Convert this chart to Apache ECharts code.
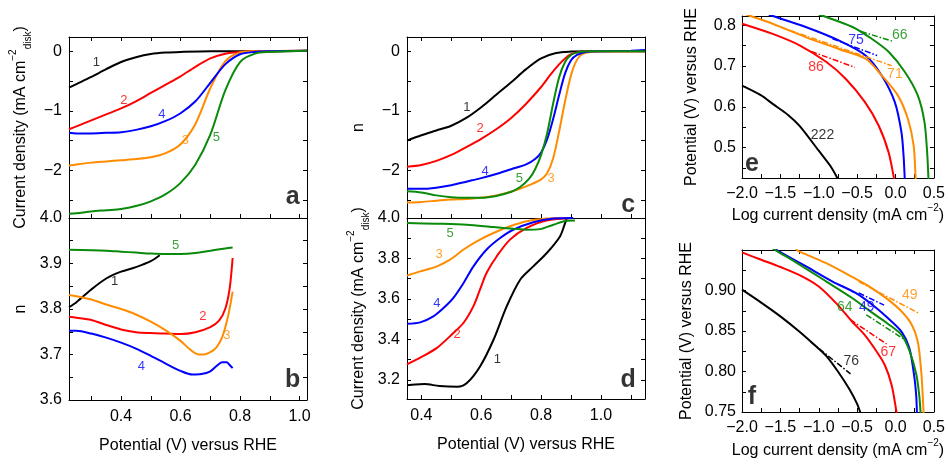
<!DOCTYPE html>
<html>
<head>
<meta charset="utf-8">
<script src="https://cdn.jsdelivr.net/npm/echarts@6/dist/echarts.min.js"></script>
<style>
  html, body { margin: 0; padding: 0; background: #fff; }
  #chart { width: 948px; height: 468px; }
</style>
</head>
<body>
<div id="chart"></div>
<script>
// ---- panel a: current density vs potential (samples 1..5)
const a1 = [[0.225,-0.61],[0.25,-0.55],[0.3,-0.43],[0.35,-0.30],[0.4,-0.18],[0.45,-0.10],[0.5,-0.045],[0.55,-0.02],[0.6,-0.01],[0.7,0],[0.8,0],[0.9,0],[1.0,0.005],[1.025,0.01]];
const a2 = [[0.225,-1.31],[0.25,-1.26],[0.3,-1.16],[0.35,-1.06],[0.4,-0.96],[0.45,-0.84],[0.5,-0.70],[0.55,-0.56],[0.6,-0.42],[0.65,-0.26],[0.7,-0.12],[0.75,-0.04],[0.8,-0.01],[0.85,0],[1.025,0.01]];
const a3 = [[0.225,-1.92],[0.25,-1.90],[0.3,-1.87],[0.35,-1.85],[0.4,-1.83],[0.45,-1.81],[0.5,-1.78],[0.55,-1.71],[0.6,-1.56],[0.65,-1.22],[0.7,-0.62],[0.75,-0.17],[0.8,-0.02],[0.85,0],[1.025,0.01]];
const a4 = [[0.225,-1.37],[0.25,-1.38],[0.3,-1.38],[0.35,-1.37],[0.4,-1.36],[0.45,-1.32],[0.5,-1.26],[0.55,-1.17],[0.6,-1.04],[0.65,-0.84],[0.7,-0.53],[0.75,-0.22],[0.8,-0.05],[0.85,-0.01],[0.9,0],[1.025,0.01]];
const a5 = [[0.225,-2.73],[0.25,-2.72],[0.3,-2.69],[0.35,-2.67],[0.4,-2.65],[0.45,-2.60],[0.5,-2.52],[0.55,-2.40],[0.6,-2.21],[0.65,-1.90],[0.7,-1.40],[0.75,-0.66],[0.8,-0.18],[0.85,-0.04],[0.9,-0.01],[0.95,0],[1.025,0.01]];
const aLabelPos = [[0.317,-0.18],[0.409,-0.82],[0.616,-1.50],[0.537,-1.06],[0.72,-1.44]];

// ---- panel b: electron transfer number n
const b1 = [[0.225,3.804],[0.25,3.815],[0.3,3.843],[0.35,3.867],[0.4,3.882],[0.45,3.892],[0.5,3.905],[0.53,3.918]];
const b2 = [[0.225,3.783],[0.25,3.781],[0.3,3.776],[0.35,3.765],[0.4,3.755],[0.45,3.749],[0.5,3.747],[0.55,3.746],[0.6,3.745],[0.65,3.749],[0.7,3.760],[0.73,3.775],[0.75,3.800],[0.765,3.845],[0.775,3.912]];
const b3 = [[0.225,3.831],[0.25,3.828],[0.3,3.821],[0.35,3.810],[0.4,3.800],[0.45,3.788],[0.5,3.772],[0.55,3.753],[0.6,3.730],[0.63,3.712],[0.66,3.700],[0.68,3.700],[0.7,3.705],[0.72,3.715],[0.74,3.738],[0.76,3.785],[0.775,3.838]];
const b4 = [[0.225,3.752],[0.25,3.752],[0.3,3.746],[0.35,3.737],[0.4,3.726],[0.45,3.713],[0.5,3.697],[0.55,3.680],[0.6,3.664],[0.64,3.656],[0.67,3.657],[0.7,3.663],[0.72,3.674],[0.74,3.683],[0.755,3.683],[0.765,3.677],[0.775,3.670]];
const b5 = [[0.225,3.930],[0.3,3.929],[0.35,3.928],[0.4,3.926],[0.45,3.924],[0.5,3.922],[0.55,3.921],[0.6,3.921],[0.65,3.923],[0.7,3.928],[0.75,3.933],[0.775,3.935]];
const bLabelPos = [[0.378,3.860],[0.675,3.783],[0.756,3.743],[0.468,3.673],[0.583,3.939]];

// ---- panel c
const c1 = [[0.352,-1.50],[0.4,-1.41],[0.45,-1.33],[0.5,-1.25],[0.55,-1.12],[0.6,-0.94],[0.65,-0.73],[0.7,-0.52],[0.75,-0.30],[0.8,-0.12],[0.85,-0.03],[0.9,-0.005],[0.95,0],[1.147,0]];
const c2 = [[0.352,-1.94],[0.4,-1.91],[0.45,-1.84],[0.5,-1.74],[0.55,-1.61],[0.6,-1.47],[0.65,-1.31],[0.7,-1.12],[0.75,-0.88],[0.8,-0.60],[0.83,-0.40],[0.86,-0.22],[0.88,-0.12],[0.9,-0.05],[0.93,-0.01],[0.96,0],[1.147,0]];
const c3 = [[0.352,-2.54],[0.4,-2.53],[0.45,-2.51],[0.5,-2.49],[0.55,-2.48],[0.6,-2.46],[0.65,-2.42],[0.7,-2.36],[0.75,-2.27],[0.8,-2.15],[0.82,-2.05],[0.84,-1.80],[0.86,-1.35],[0.88,-0.84],[0.9,-0.40],[0.92,-0.14],[0.94,-0.04],[0.97,-0.01],[1.0,0],[1.147,0]];
const c4 = [[0.352,-2.31],[0.4,-2.31],[0.45,-2.29],[0.5,-2.25],[0.55,-2.19],[0.6,-2.13],[0.65,-2.06],[0.7,-1.98],[0.75,-1.90],[0.78,-1.81],[0.8,-1.70],[0.82,-1.48],[0.84,-1.14],[0.86,-0.74],[0.88,-0.37],[0.9,-0.15],[0.92,-0.06],[0.95,-0.01],[1.0,0],[1.1,0.01],[1.147,0.02]];
const c5 = [[0.352,-2.35],[0.4,-2.37],[0.45,-2.42],[0.5,-2.45],[0.55,-2.46],[0.6,-2.46],[0.65,-2.43],[0.7,-2.36],[0.73,-2.28],[0.76,-2.14],[0.78,-1.98],[0.8,-1.74],[0.82,-1.38],[0.84,-0.88],[0.86,-0.44],[0.88,-0.18],[0.9,-0.06],[0.93,-0.01],[0.96,0],[1.147,0]];
const cLabelPos = [[0.552,-0.94],[0.596,-1.30],[0.833,-2.14],[0.613,-2.01],[0.727,-2.14]];

// ---- panel d
const d1 = [[0.352,3.173],[0.38,3.177],[0.41,3.179],[0.46,3.169],[0.52,3.165],[0.552,3.184],[0.596,3.266],[0.641,3.398],[0.685,3.563],[0.73,3.695],[0.774,3.761],[0.819,3.827],[0.863,3.909],[0.88,3.975],[0.885,3.995]];
const d2 = [[0.352,3.276],[0.396,3.309],[0.452,3.358],[0.496,3.416],[0.541,3.482],[0.574,3.564],[0.596,3.647],[0.618,3.729],[0.652,3.811],[0.696,3.893],[0.752,3.951],[0.818,3.988],[0.907,4.0]];
const d3 = [[0.352,3.715],[0.396,3.736],[0.452,3.761],[0.496,3.794],[0.541,3.844],[0.585,3.885],[0.641,3.926],[0.696,3.959],[0.752,3.984],[0.818,3.997],[0.863,4.0]];
const d4 = [[0.352,3.477],[0.396,3.484],[0.44,3.514],[0.474,3.555],[0.507,3.605],[0.541,3.679],[0.574,3.761],[0.618,3.844],[0.663,3.901],[0.707,3.942],[0.774,3.979],[0.841,3.997],[0.907,4.0]];
const d5 = [[0.352,3.975],[0.45,3.972],[0.552,3.967],[0.641,3.955],[0.707,3.947],[0.752,3.942],[0.796,3.945],[0.841,3.967],[0.885,3.986],[0.913,3.988]];
const dLabelPos = [[0.654,3.30],[0.519,3.424],[0.459,3.819],[0.452,3.58],[0.496,3.922]];

const sampleNames = ['1', '2', '3', '4', '5'];

// ---- panel e: Tafel plots (black, red, blue, orange, green)
const eBlack = [[-2,0.652],[-1.75,0.628],[-1.6,0.607],[-1.4,0.58],[-1.25,0.553],[-1.0,0.492],[-0.85,0.455],[-0.758,0.425],[-0.75,0.42]];
const eRed = [[-2,0.804],[-1.6,0.779],[-1.25,0.751],[-0.9,0.710],[-0.65,0.669],[-0.4,0.612],[-0.22,0.554],[-0.09,0.488],[-0.02,0.425],[-0.015,0.42]];
const eBlue = [[-1.65,0.826],[-1.6,0.823],[-1.17,0.796],[-0.74,0.763],[-0.39,0.726],[-0.18,0.677],[-0.01,0.612],[0.077,0.538],[0.105,0.48],[0.12,0.425],[0.121,0.42]];
const eOrange = [[-2,0.831],[-1.89,0.823],[-1.6,0.804],[-1.17,0.771],[-0.74,0.742],[-0.39,0.718],[-0.18,0.677],[0.03,0.628],[0.16,0.571],[0.236,0.505],[0.262,0.425],[0.263,0.42]];
const eGreen = [[-1.0,0.826],[-0.94,0.823],[-0.56,0.796],[-0.31,0.767],[-0.09,0.735],[0.12,0.686],[0.29,0.628],[0.377,0.563],[0.412,0.489],[0.429,0.425],[0.43,0.42]];
const eFitRed = [[-1.10,0.736],[-0.53,0.697]];
const eFitBlue = [[-0.82,0.767],[-0.24,0.726]];
const eFitOrange = [[-1.38,0.788],[-0.05,0.701]];
const eFitGreen = [[-0.45,0.785],[-0.04,0.761]];
const eSlopes = ['222', '86', '75', '71', '66'];
const eSlopePos = [[-0.951,0.531],[-1.036,0.697],[-0.514,0.763],[-0.008,0.681],[0.056,0.777]];

// ---- panel f
const fBlack = [[-2,0.901],[-1.75,0.885],[-1.5,0.868],[-1.25,0.849],[-1.0,0.828],[-0.9,0.819],[-0.75,0.800],[-0.6,0.778],[-0.5,0.760],[-0.46,0.75],[-0.45,0.748]];
const fRed = [[-2,0.947],[-1.75,0.938],[-1.5,0.929],[-1.25,0.919],[-1.0,0.905],[-0.75,0.882],[-0.57,0.862],[-0.4,0.845],[-0.27,0.828],[-0.14,0.808],[-0.05,0.783],[0.013,0.75],[0.015,0.748]];
const fBlue = [[-1.6,0.953],[-1.53,0.949],[-1.17,0.930],[-0.82,0.911],[-0.52,0.897],[-0.31,0.883],[-0.1,0.866],[0.08,0.849],[0.18,0.829],[0.24,0.797],[0.27,0.77],[0.279,0.75],[0.28,0.748]];
const fOrange = [[-1.3,0.951],[-1.27,0.949],[-0.91,0.934],[-0.57,0.917],[-0.31,0.903],[-0.1,0.889],[0.08,0.874],[0.21,0.858],[0.29,0.837],[0.335,0.80],[0.355,0.77],[0.365,0.75],[0.366,0.748]];
const fGreen = [[-1.6,0.952],[-1.55,0.949],[-1.25,0.932],[-0.9,0.911],[-0.57,0.891],[-0.31,0.873],[-0.1,0.859],[0.08,0.845],[0.18,0.826],[0.27,0.797],[0.31,0.77],[0.326,0.75],[0.328,0.748]];
const fFitBlack = [[-1.11,0.837],[-0.586,0.797]];
const fFitRed = [[-0.59,0.864],[-0.116,0.834]];
const fFitBlue = [[-0.48,0.897],[-0.149,0.882]];
const fFitOrange = [[-0.48,0.911],[0.301,0.872]];
const fFitGreen = [[-0.38,0.870],[0.141,0.838]];
const fSlopes = ['76', '67', '49', '49', '64'];
const fSlopePos = [[-0.575,0.813],[-0.094,0.824],[-0.373,0.879],[0.185,0.894],[-0.66,0.879]];

// ---- ticks and tick labels
const abTicks = [0.3,0.4,0.5,0.6,0.7,0.8,0.9,1.0];
const abTickLabels = [0.4,0.6,0.8,1.0];
const cdTicks = [0.4,0.5,0.6,0.7,0.8,0.9,1.0,1.1];
const cdTickLabels = [0.4,0.6,0.8,1.0];
const acYTicks = [-2.5,-2,-1.5,-1,-0.5,0];
const acYLabels = [-2,-1,0];
const bYTicks = [3.6,3.65,3.7,3.75,3.8,3.85,3.9,3.95,4.0];
const bYLabels = [3.6,3.7,3.8,3.9,4.0];
const dYTicks = [3.2,3.3,3.4,3.5,3.6,3.7,3.8,3.9,4.0];
const dYLabels = [3.2,3.4,3.6,3.8,4.0];
const efXTicks = [-2,-1.75,-1.5,-1.25,-1,-0.75,-0.5,-0.25,0,0.25,0.5];
const efXLabels = [-2,-1.5,-1,-0.5,0,0.5];
const eYTicks = [0.45,0.5,0.55,0.6,0.65,0.7,0.75,0.8];
const eYLabels = [0.5,0.6,0.7,0.8];
const fYTicks = [0.75,0.775,0.8,0.825,0.85,0.875,0.9,0.925,0.95];
const fYLabels = [0.75,0.80,0.85,0.90];

const FONT = '"Liberation Sans", Arial, Helvetica, sans-serif';
const BLACK = '#000000', RED = '#ff0000', BLUE = '#0000ff', ORANGE = '#ff8c00', GREEN = '#0a8a0a';
const sampleColors = [BLACK, RED, ORANGE, BLUE, GREEN];

const fmt = d => v => (v < -1e-9 ? '\u2212' : '') + Math.abs(v).toFixed(d);

const richName = {
  sup: { fontSize: 10, fontFamily: FONT, color: '#000', verticalAlign: 'top', lineHeight: 25 },
  sub: { fontSize: 10, fontFamily: FONT, color: '#000', verticalAlign: 'bottom', lineHeight: 25 }
};

function axis(o) {
  return {
    type: 'value', gridIndex: o.grid, position: o.pos, min: o.min, max: o.max,
    name: o.name || '', nameLocation: 'middle', nameGap: o.gap || 0, nameRotate: o.rot || 0,
    nameTextStyle: { fontSize: 16, fontFamily: FONT, color: '#000', rich: richName },
    axisLine: { show: true, onZero: false, lineStyle: { color: '#000', width: 1 } },
    axisTick: { show: true, inside: true, length: 4, customValues: o.ticks, lineStyle: { color: '#000', width: 1 } },
    axisLabel: o.labels
      ? { show: true, customValues: o.labels, formatter: o.fmt, color: '#000', fontSize: 16, fontFamily: FONT, margin: o.margin || 8 }
      : { show: false },
    splitLine: { show: false }
  };
}

const grids = [
  { left: 69, top: 37, width: 238, height: 181 },   // a
  { left: 69, top: 218, width: 238, height: 182 },  // b
  { left: 407, top: 37, width: 238, height: 181 },  // c
  { left: 407, top: 218, width: 238, height: 181 }, // d
  { left: 742, top: 16, width: 194, height: 162 },  // e
  { left: 742, top: 250, width: 194, height: 162 }  // f
];

const cdYName = 'Current density (mA cm{sup|\u22122}{sub|disk})';
const potName = 'Potential (V) versus RHE';
const logName = 'Log current density (mA cm{sup|\u22122})';

const xAxes = [
  axis({ grid: 0, pos: 'bottom', min: 0.225, max: 1.025, ticks: abTicks }),
  axis({ grid: 1, pos: 'bottom', min: 0.225, max: 1.025, ticks: abTicks, labels: abTickLabels, fmt: fmt(1), name: potName, gap: 38, margin: 9 }),
  axis({ grid: 2, pos: 'bottom', min: 0.352, max: 1.147, ticks: cdTicks }),
  axis({ grid: 3, pos: 'bottom', min: 0.352, max: 1.147, ticks: cdTicks, labels: cdTickLabels, fmt: fmt(1), name: potName, gap: 38, margin: 9 }),
  axis({ grid: 4, pos: 'bottom', min: -2, max: 0.5, ticks: efXTicks, labels: efXLabels, fmt: fmt(1), name: logName, gap: 24, margin: 8 }),
  axis({ grid: 5, pos: 'bottom', min: -2, max: 0.5, ticks: efXTicks, labels: efXLabels, fmt: fmt(1), name: logName, gap: 26, margin: 8 }),
  axis({ grid: 0, pos: 'top', min: 0.225, max: 1.025, ticks: abTicks }),
  axis({ grid: 2, pos: 'top', min: 0.352, max: 1.147, ticks: cdTicks }),
  axis({ grid: 4, pos: 'top', min: -2, max: 0.5, ticks: efXTicks }),
  axis({ grid: 5, pos: 'top', min: -2, max: 0.5, ticks: efXTicks })
];

const yAxes = [
  axis({ grid: 0, pos: 'left', min: -2.8, max: 0.24, ticks: acYTicks, labels: acYLabels, fmt: fmt(0), name: cdYName, gap: 36, rot: 90, margin: 7 }),
  axis({ grid: 1, pos: 'left', min: 3.6, max: 4.0, ticks: bYTicks, labels: bYLabels, fmt: fmt(1), name: 'n', gap: 40, rot: 90, margin: 7 }),
  axis({ grid: 2, pos: 'left', min: -2.8, max: 0.24, ticks: acYTicks, labels: acYLabels, fmt: fmt(0), name: 'n', gap: 40, rot: 90, margin: 7 }),
  axis({ grid: 3, pos: 'left', min: 3.105, max: 4.0, ticks: dYTicks, labels: dYLabels, fmt: fmt(1), name: cdYName, gap: 36, rot: 90, margin: 7 }),
  axis({ grid: 4, pos: 'left', min: 0.425, max: 0.823, ticks: eYTicks, labels: eYLabels, fmt: fmt(1), name: potName, gap: 42, rot: 90, margin: 6 }),
  axis({ grid: 5, pos: 'left', min: 0.75, max: 0.95, ticks: fYTicks, labels: fYLabels, fmt: fmt(2), name: potName, gap: 47, rot: 90, margin: 6 }),
  axis({ grid: 0, pos: 'right', min: -2.8, max: 0.24, ticks: acYTicks }),
  axis({ grid: 1, pos: 'right', min: 3.6, max: 4.0, ticks: bYTicks }),
  axis({ grid: 2, pos: 'right', min: -2.8, max: 0.24, ticks: acYTicks }),
  axis({ grid: 3, pos: 'right', min: 3.105, max: 4.0, ticks: dYTicks }),
  axis({ grid: 4, pos: 'right', min: 0.425, max: 0.823, ticks: eYTicks }),
  axis({ grid: 5, pos: 'right', min: 0.75, max: 0.95, ticks: fYTicks })
];

function curve(p, data, color) {
  return { type: 'line', xAxisIndex: p, yAxisIndex: p, data: data, symbol: 'none', smooth: 0.3,
    lineStyle: { color: color, width: 2 }, silent: true, clip: true, z: 3 };
}
function fitLine(p, data, color) {
  return { type: 'line', xAxisIndex: p, yAxisIndex: p, data: data, symbol: 'none',
    lineStyle: { color: color, width: 1.5, type: [6, 2, 1.5, 2] }, silent: true, z: 4 };
}
function labels(p, pos, texts, colors, size, bold) {
  return { type: 'scatter', xAxisIndex: p, yAxisIndex: p, symbolSize: 0, silent: true, z: 6,
    data: pos.map((v, i) => ({ value: v, name: texts[i], label: { color: colors[i] } })),
    label: { show: true, position: 'inside', formatter: '{b}', fontSize: size, fontFamily: FONT, fontWeight: bold ? 'bold' : 'normal' } };
}

const panelLetterPos = [[0.977,-2.45],[0.977,3.644],[1.091,-2.59],[1.091,3.20],[-1.87,0.459],[-1.87,0.769]];
const panelLetters = ['a', 'b', 'c', 'd', 'e', 'f'];

const series = [];
[[a1, a2, a3, a4, a5], [b1, b2, b3, b4, b5], [c1, c2, c3, c4, c5], [d1, d2, d3, d4, d5]].forEach((set, p) => {
  set.forEach((d, i) => series.push(curve(p, d, sampleColors[i])));
});
series.push(labels(0, aLabelPos, sampleNames, sampleColors, 13));
series.push(labels(1, bLabelPos, sampleNames, sampleColors, 13));
series.push(labels(2, cLabelPos, sampleNames, sampleColors, 13));
series.push(labels(3, dLabelPos, sampleNames, sampleColors, 13));

const tafelColors = [BLACK, RED, BLUE, ORANGE, GREEN];
[eBlack, eRed, eBlue, eOrange, eGreen].forEach((d, i) => series.push(curve(4, d, tafelColors[i])));
[fBlack, fRed, fBlue, fOrange, fGreen].forEach((d, i) => series.push(curve(5, d, tafelColors[i])));
series.push(fitLine(4, eFitRed, RED), fitLine(4, eFitBlue, BLUE), fitLine(4, eFitOrange, ORANGE), fitLine(4, eFitGreen, GREEN));
series.push(fitLine(5, fFitBlack, BLACK), fitLine(5, fFitRed, RED), fitLine(5, fFitBlue, BLUE), fitLine(5, fFitOrange, ORANGE), fitLine(5, fFitGreen, GREEN));
series.push(labels(4, eSlopePos, eSlopes, tafelColors, 14));
series.push(labels(5, fSlopePos, fSlopes, tafelColors, 14));

panelLetters.forEach((t, p) => series.push(labels(p, [panelLetterPos[p]], [t], [BLACK], 25, true)));

const chart = echarts.init(document.getElementById('chart'), null, { renderer: 'canvas' });
chart.setOption({
  animation: false,
  backgroundColor: '#fff',
  textStyle: { fontFamily: FONT },
  grid: grids,
  xAxis: xAxes,
  yAxis: yAxes,
  series: series
});
</script>
</body>
</html>
